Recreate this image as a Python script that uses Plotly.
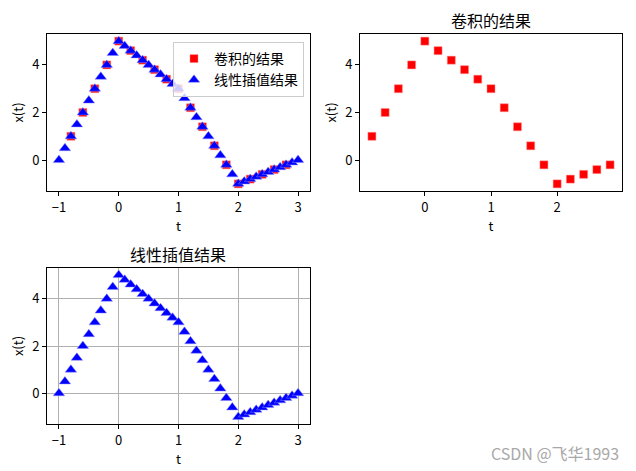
import plotly.graph_objects as go

# 卷积结果 (步长 0.2)
t_conv = [-0.8, -0.6, -0.4, -0.2, 0.0, 0.2, 0.4, 0.6, 0.8, 1.0,
          1.2, 1.4, 1.6, 1.8, 2.0, 2.2, 2.4, 2.6, 2.8]
x_conv = [1.0, 2.0, 3.0, 4.0, 5.0, 4.6, 4.2, 3.8, 3.4, 3.0,
          2.2, 1.4, 0.6, -0.2, -1.0, -0.8, -0.6, -0.4, -0.2]

# 线性插值结果 (步长 0.1)
t_interp = [-1.0, -0.9, -0.8, -0.7, -0.6, -0.5, -0.4, -0.3, -0.2, -0.1,
            0.0, 0.1, 0.2, 0.3, 0.4, 0.5, 0.6, 0.7, 0.8, 0.9,
            1.0, 1.1, 1.2, 1.3, 1.4, 1.5, 1.6, 1.7, 1.8, 1.9,
            2.0, 2.1, 2.2, 2.3, 2.4, 2.5, 2.6, 2.7, 2.8, 2.9, 3.0]
x_interp = [0.0, 0.5, 1.0, 1.5, 2.0, 2.5, 3.0, 3.5, 4.0, 4.5,
            5.0, 4.8, 4.6, 4.4, 4.2, 4.0, 3.8, 3.6, 3.4, 3.2,
            3.0, 2.6, 2.2, 1.8, 1.4, 1.0, 0.6, 0.2, -0.2, -0.6,
            -1.0, -0.9, -0.8, -0.7, -0.6, -0.5, -0.4, -0.3, -0.2, -0.1, 0.0]

# page body has an 8px margin, so the figure is drawn at (8, 8)
OFF = 8
W, H = 636 - OFF, 471 - OFF
FONT = "Noto Sans CJK SC, DejaVu Sans, sans-serif"
RED = "#ff0000"
BLUE = "#0000ff"

sq = dict(symbol="square", size=8, color=RED, line=dict(width=0.6, color="rgba(255,140,140,0.8)"))
tri = dict(symbol="triangle-up", size=10, color=BLUE, line=dict(width=0.6, color="rgba(140,140,255,0.8)"))

fig = go.Figure()
fig.add_trace(go.Scatter(x=t_conv, y=x_conv, mode="markers", marker=sq,
                         name="卷积的结果", xaxis="x", yaxis="y"))
fig.add_trace(go.Scatter(x=t_interp, y=x_interp, mode="markers", marker=tri,
                         name="线性插值结果", xaxis="x", yaxis="y"))
fig.add_trace(go.Scatter(x=t_conv, y=x_conv, mode="markers", marker=sq,
                         showlegend=False, xaxis="x2", yaxis="y2"))
fig.add_trace(go.Scatter(x=t_interp, y=x_interp, mode="markers", marker=tri,
                         showlegend=False, xaxis="x3", yaxis="y3"))


def fx(a):
    return (a - OFF) / W


def fy(b):
    return 1 - (b - OFF) / H


def ax(domain, rng, dtick, anchor, title, grid=False, standoff=2):
    return dict(domain=domain, range=rng, dtick=dtick, anchor=anchor,
                showline=True, mirror=True, linecolor="black", linewidth=1,
                ticks="outside", ticklen=4, tickcolor="black",
                showgrid=grid, gridcolor="#b0b0b0", gridwidth=1, zeroline=False,
                tickfont=dict(size=13, color="black"),
                title=dict(text=title, font=dict(size=13, color="black"), standoff=standoff))


fig.update_layout(
    width=W, height=H,
    margin=dict(l=0, r=0, t=0, b=0),
    paper_bgcolor="white", plot_bgcolor="white",
    font=dict(family=FONT, size=13, color="black"),
    xaxis=ax([fx(47), fx(310)], [-1.2, 3.2], 1, "y", "t"),
    yaxis=ax([fy(191), fy(34)], [-1.3, 5.3], 2, "x", "x(t)", standoff=5),
    xaxis2=ax([fx(360), fx(622)], [-0.98, 2.98], 1, "y2", "t"),
    yaxis2=ax([fy(191), fy(34)], [-1.3, 5.3], 2, "x2", "x(t)", standoff=5),
    xaxis3=ax([fx(47), fx(310)], [-1.2, 3.2], 1, "y3", "t", grid=True),
    yaxis3=ax([fy(424), fy(268)], [-1.3, 5.3], 2, "x3", "x(t)", grid=True, standoff=5),
    legend=dict(x=fx(304), xanchor="right", y=fy(42), yanchor="top",
                bgcolor="rgba(255,255,255,0.8)", bordercolor="#cccccc", borderwidth=1,
                font=dict(size=14, family=FONT), tracegroupgap=0),
    showlegend=True,
    annotations=[
        dict(text="卷积的结果", x=fx(491), y=fy(20), xref="paper", yref="paper",
             xanchor="center", yanchor="middle", showarrow=False,
             font=dict(size=16, family=FONT)),
        dict(text="线性插值结果", x=fx(178), y=fy(254), xref="paper", yref="paper",
             xanchor="center", yanchor="middle", showarrow=False,
             font=dict(size=16, family=FONT)),
        dict(text="CSDN @飞华1993", x=fx(621), y=fy(453), xref="paper", yref="paper",
             xanchor="right", yanchor="middle", showarrow=False,
             font=dict(size=16, color="#a8a8a8", family=FONT)),
    ],
)

fig.write_html("out.html")
